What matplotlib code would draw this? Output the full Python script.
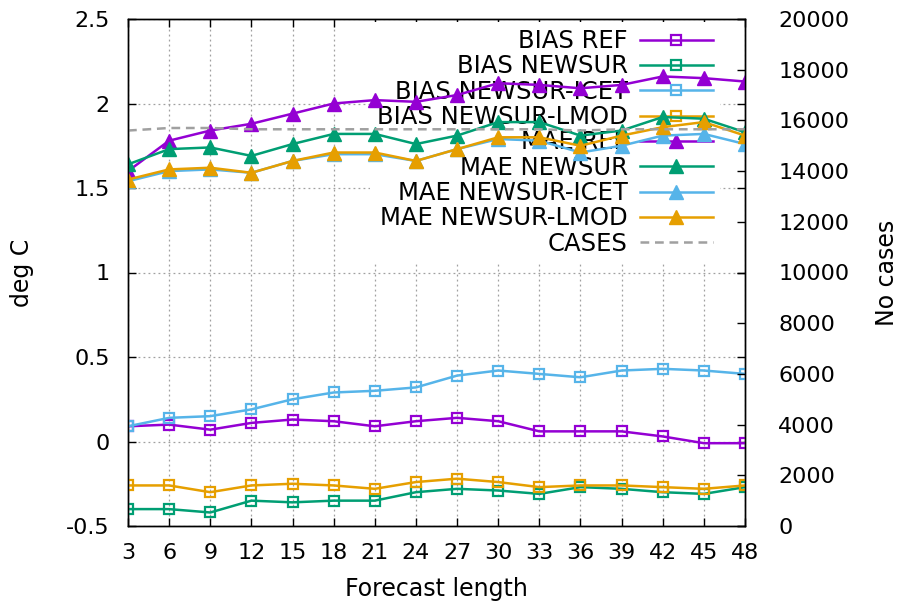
import matplotlib
matplotlib.use("Agg")
import matplotlib.pyplot as plt
from matplotlib.ticker import FuncFormatter, MultipleLocator

# ---- data ----
steps = [3, 6, 9, 12, 15, 18, 21, 24, 27, 30, 33, 36, 39, 42, 45, 48]

bias_ref = [0.09, 0.10, 0.07, 0.11, 0.13, 0.12, 0.09, 0.12, 0.14, 0.12, 0.06, 0.06, 0.06, 0.03, -0.01, -0.01]
bias_newsur = [-0.40, -0.40, -0.42, -0.35, -0.36, -0.35, -0.35, -0.30, -0.28, -0.29, -0.31, -0.27, -0.28, -0.30, -0.31, -0.27]
bias_icet = [0.09, 0.14, 0.15, 0.19, 0.25, 0.29, 0.30, 0.32, 0.39, 0.42, 0.40, 0.38, 0.42, 0.43, 0.42, 0.40]
bias_lmod = [-0.26, -0.26, -0.30, -0.26, -0.25, -0.26, -0.28, -0.24, -0.22, -0.24, -0.27, -0.26, -0.26, -0.27, -0.28, -0.26]

mae_ref = [1.60, 1.78, 1.84, 1.88, 1.94, 2.00, 2.02, 2.01, 2.05, 2.12, 2.11, 2.09, 2.11, 2.16, 2.15, 2.13]
mae_newsur = [1.64, 1.73, 1.74, 1.69, 1.76, 1.82, 1.82, 1.76, 1.81, 1.89, 1.89, 1.81, 1.84, 1.92, 1.91, 1.83]
mae_icet = [1.54, 1.60, 1.61, 1.59, 1.66, 1.70, 1.70, 1.66, 1.73, 1.79, 1.78, 1.71, 1.75, 1.81, 1.82, 1.76]
mae_lmod = [1.55, 1.61, 1.62, 1.59, 1.66, 1.71, 1.71, 1.66, 1.73, 1.80, 1.80, 1.75, 1.81, 1.86, 1.89, 1.81]

cases = [15600, 15700, 15700, 15650, 15650, 15650, 15650, 15650, 15650, 15650, 15650, 15600, 15650, 15650, 15650, 15650]

labels = ["BIAS REF", "BIAS NEWSUR", "BIAS NEWSUR-ICET", "BIAS NEWSUR-LMOD",
          "MAE REF", "MAE NEWSUR", "MAE NEWSUR-ICET", "MAE NEWSUR-LMOD", "CASES"]
colors = ["#9400d3", "#009e73", "#56b4e9", "#e69f00"]

plt.rcParams['font.family'] = ['DejaVu Sans']
FS_TICK = 16
FS_LAB = 17
FS_LEG = 17.5

fig = plt.figure(figsize=(9.01, 6.01), dpi=100)
ax = fig.add_axes([128 / 901, 75 / 601, 617 / 901, 507 / 601])
ax2 = ax.twinx()

lw = 1.8
handles = []
for vals, c, lab in zip([bias_ref, bias_newsur, bias_icet, bias_lmod], colors, labels[:4]):
    h, = ax.plot(steps, vals, color=c, lw=lw, marker='s', ms=7.5, mfc='none',
                 mec=c, mew=1.6, label=lab, zorder=3)
    handles.append(h)
for vals, c, lab in zip([mae_ref, mae_newsur, mae_icet, mae_lmod], colors, labels[4:8]):
    h, = ax.plot(steps, vals, color=c, lw=lw, marker='^', ms=10, mfc=c,
                 mec=c, label=lab, zorder=3)
    handles.append(h)
hc, = ax2.plot(steps, cases, color='#a0a0a0', lw=lw, linestyle=(0, (3.5, 2.3)), label=labels[8])
handles.append(hc)

ax.set_xlim(3, 48)
ax.set_ylim(-0.5, 2.5)
ax2.set_ylim(0, 20000)
ax.set_xticks(steps)
ax.yaxis.set_major_locator(MultipleLocator(0.5))
ax.yaxis.set_major_formatter(FuncFormatter(lambda v, p: "%g" % v))
ax2.set_yticks(range(0, 20001, 2000))

ax.set_axisbelow(True)
ax.grid(True, color='#a0a0a0', linestyle=(0, (1.5, 2.5)), linewidth=0.9)

ax.tick_params(axis='x', direction='in', length=6, width=1, top=True, labelsize=FS_TICK, pad=12, colors='black')
ax.tick_params(axis='y', direction='in', length=6, width=1, right=True, labelsize=FS_TICK, pad=13)
ax2.tick_params(axis='y', direction='in', length=6, width=1, labelsize=FS_TICK, pad=24)
for a in (ax, ax2):
    for s in a.spines.values():
        s.set_linewidth(1)
        s.set_color('black')

ax.set_xlabel("Forecast length", fontsize=FS_LAB)
ax.xaxis.set_label_coords(0.5, -0.100)
ax.set_ylabel("deg C", fontsize=FS_LAB)
ax.yaxis.set_label_coords(-0.152, 0.5)
ax2.set_ylabel("No cases", fontsize=FS_LAB)
ax2.yaxis.set_label_coords(1.211, 0.5)

leg = ax.legend(handles=handles, loc='upper right', bbox_to_anchor=(0.9595, 0.9945),
                borderaxespad=0, borderpad=0.3, markerfirst=False, fontsize=FS_LEG,
                handlelength=3.0, handletextpad=0.5, labelspacing=0.055,
                frameon=True, fancybox=False, facecolor='white', edgecolor='none', framealpha=1)
for t in leg.get_texts():
    t.set_ha('right')
leg._legend_box.align = "right"
leg.set_zorder(1.5)

fig.savefig("out.png", dpi=100)
